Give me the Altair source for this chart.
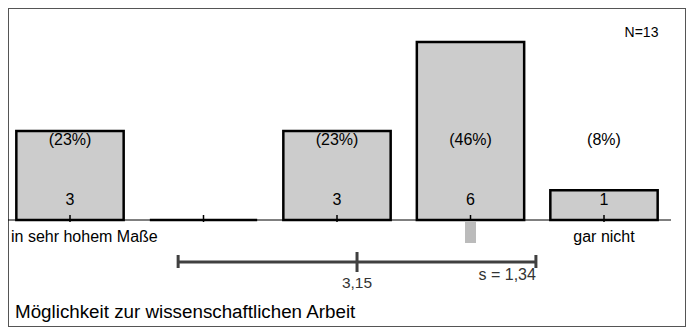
import altair as alt
import pandas as pd

# ---- data ----
categories = [1, 2, 3, 4, 5]
counts = [3, 0, 3, 6, 1]
percent_labels = ["(23%)", "", "(23%)", "(46%)", "(8%)"]
count_labels = ["3", "", "3", "6", "1"]
end_labels = ["in sehr hohem Maße", "", "", "", "gar nicht"]
mean_value = 3.15
sd_value = 1.34
median_value = 4
n_total = 13
mean_text = "3,15"
sd_text = "s = 1,34"
n_text = "N=13"
title_text = "Möglichkeit zur wissenschaftlichen Arbeit"

# ---- layout (pixels) ----
W, H = 678, 319
first_center, step = 62.0, 133.5
baseline_px, unit_px = 212.0, 29.67
half_bar = 0.402
FONT = "Liberation Sans"

x_dom = [1 - first_center / step, 1 + (W - first_center) / step]
y_dom = [-(H - baseline_px) / unit_px, baseline_px / unit_px]

xs = alt.Scale(domain=x_dom, range=[0, W], nice=False, zero=False)
ys = alt.Scale(domain=y_dom, range=[H, 0], nice=False, zero=False)

df = pd.DataFrame({
    "cat": categories,
    "count": counts,
    "pct": percent_labels,
    "cnt": count_labels,
    "lab": end_labels,
})
df["zero"] = 0
df["lo"] = df["cat"] - half_bar
df["hi"] = df["cat"] + half_bar

stat = pd.DataFrame({
    "mean": [mean_value],
    "lo": [mean_value - sd_value],
    "hi": [mean_value + sd_value],
    "median": [median_value],
    "mtxt": [mean_text],
    "stxt": [sd_text],
})

base = alt.Chart(df)
sbase = alt.Chart(stat)

bars = base.mark_rect(fill="#cccccc", stroke="#000000", strokeWidth=2.5).encode(
    x=alt.X("lo:Q", scale=xs, axis=None),
    x2="hi:Q",
    y=alt.Y("zero:Q", scale=ys, axis=None),
    y2="count:Q",
)

baseline = alt.Chart(df.head(1)).mark_rule(color="#000000", strokeWidth=1).encode(
    x=alt.value(0), x2=alt.value(663), y=alt.value(baseline_px)
)

ticks = base.mark_rule(color="#000000", strokeWidth=1.5).encode(
    x=alt.X("cat:Q", scale=xs, axis=None),
    y=alt.value(baseline_px - 5), y2=alt.value(baseline_px + 2),
)

pct_txt = base.mark_text(font=FONT, fontSize=16, color="#000000", baseline="middle").encode(
    x=alt.X("cat:Q", scale=xs, axis=None), y=alt.value(132), text="pct:N"
)
cnt_txt = base.mark_text(font=FONT, fontSize=16, color="#000000", baseline="middle").encode(
    x=alt.X("cat:Q", scale=xs, axis=None), y=alt.value(192), text="cnt:N"
)

left_lab = alt.Chart(df[df["cat"] == 1]).mark_text(
    font=FONT, fontSize=16, color="#000000", baseline="middle", align="left"
).encode(x=alt.value(3), y=alt.value(229), text="lab:N")
right_lab = alt.Chart(df[df["cat"] == 5]).mark_text(
    font=FONT, fontSize=16, color="#000000", baseline="middle"
).encode(x=alt.X("cat:Q", scale=xs, axis=None), y=alt.value(229), text="lab:N")

median_bar = sbase.mark_rule(color="#bbbbbb", strokeWidth=11, strokeCap="butt").encode(
    x=alt.X("median:Q", scale=xs, axis=None), y=alt.value(213), y2=alt.value(235)
)

mean_line = sbase.mark_rule(color="#404040", strokeWidth=3).encode(
    x=alt.X("lo:Q", scale=xs, axis=None), x2="hi:Q", y=alt.value(254)
)
cap_lo = sbase.mark_rule(color="#404040", strokeWidth=3).encode(
    x=alt.X("lo:Q", scale=xs, axis=None), y=alt.value(247), y2=alt.value(260)
)
cap_hi = sbase.mark_rule(color="#404040", strokeWidth=3).encode(
    x=alt.X("hi:Q", scale=xs, axis=None), y=alt.value(247), y2=alt.value(260)
)
mean_tick = sbase.mark_rule(color="#404040", strokeWidth=3).encode(
    x=alt.X("mean:Q", scale=xs, axis=None), y=alt.value(244), y2=alt.value(264)
)
mean_lab = sbase.mark_text(font=FONT, fontSize=15.5, color="#333333", baseline="middle").encode(
    x=alt.X("mean:Q", scale=xs, axis=None), y=alt.value(275), text="mtxt:N"
)
sd_lab = sbase.mark_text(font=FONT, fontSize=16, color="#333333", baseline="middle", align="right").encode(
    x=alt.X("hi:Q", scale=xs, axis=None), y=alt.value(267), text="stxt:N"
)

n_lab = alt.Chart(pd.DataFrame({"t": [n_text]})).mark_text(
    font=FONT, fontSize=14, color="#000000", baseline="middle"
).encode(x=alt.value(633.5), y=alt.value(25), text="t:N")

title = alt.Chart(pd.DataFrame({"t": [title_text]})).mark_text(
    font=FONT, fontSize=18.8, color="#000000", baseline="middle", align="left"
).encode(x=alt.value(7), y=alt.value(304), text="t:N")

chart = alt.layer(
    baseline, bars, ticks, pct_txt, cnt_txt, left_lab, right_lab, median_bar,
    mean_line, cap_lo, cap_hi, mean_tick, mean_lab, sd_lab, n_lab, title,
).properties(
    width=W, height=H, padding=0, autosize=alt.AutoSizeParams(type="none"),
    background="#ffffff",
).configure_view(stroke="#555555", strokeWidth=2)

chart.save("out.html", embed_options={"renderer": "svg", "actions": False})
